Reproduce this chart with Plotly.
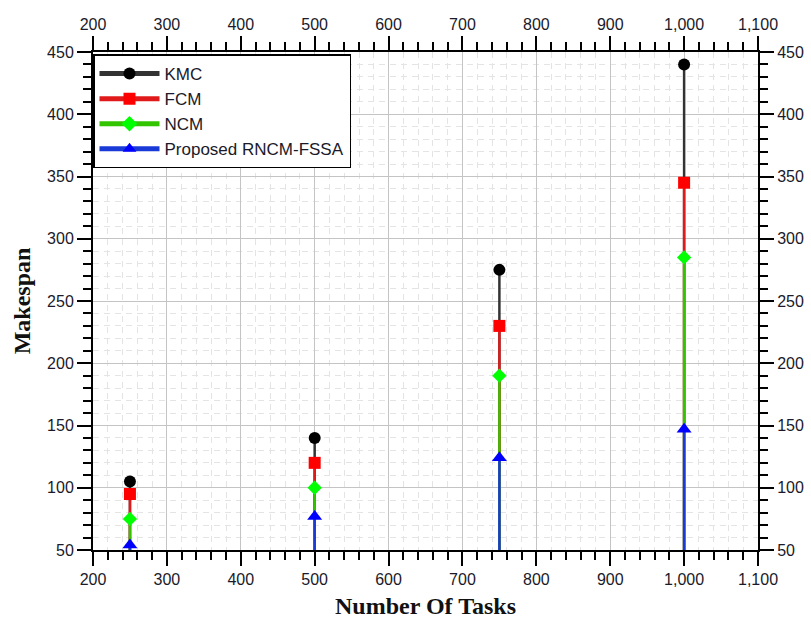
import plotly.graph_objects as go

tasks = [250, 500, 750, 1000]
kmc = [105, 140, 275, 440]
fcm = [95, 120, 230, 345]
ncm = [75, 100, 190, 285]
proposed = [54, 77, 124, 147]
baseline = 50

series = [
    ("KMC", kmc, "#333333", "#000000", "circle", 12),
    ("FCM", fcm, "#e01a1a", "#ff0000", "square", 12),
    ("NCM", ncm, "#33c400", "#00ff00", "diamond", 11),
    ("Proposed RNCM-FSSA", proposed, "#1a3ad8", "#0000ff", "triangle-up", 13),
]

fig = go.Figure()
for name, vals, lc, mc, sym, ms in series:
    xs, ys, sizes = [], [], []
    for t, v in zip(tasks, vals):
        xs += [t, t, None]
        ys += [baseline, v, None]
        sizes += [0, ms, 0]
    fig.add_trace(go.Scatter(
        x=xs, y=ys, mode="lines+markers", name=name,
        line=dict(color=lc, width=2.5),
        marker=dict(color=mc, symbol=sym, size=sizes, opacity=1, line=dict(width=0)),
        hoverinfo="skip",
    ))

# invisible trace so the mirrored (top/right) axes are drawn
fig.add_trace(go.Scatter(
    x=tasks, y=kmc, xaxis="x2", yaxis="y2", mode="markers",
    marker=dict(opacity=0), showlegend=False, hoverinfo="skip",
))

tickfont = dict(family="Liberation Sans, Arial", size=16, color="#1a1a2a")
common_x = dict(
    range=[200, 1100], dtick=100, tick0=200, tickformat=",",
    showline=True, linecolor="black", linewidth=2,
    ticks="outside", ticklen=14, tickwidth=2, tickcolor="black",
    tickfont=tickfont, automargin=False,
    zeroline=False,
)
common_y = dict(
    range=[50, 450], dtick=50, tick0=50,
    showline=True, linecolor="black", linewidth=2,
    ticks="outside", ticklen=14, tickwidth=2, tickcolor="black",
    tickfont=tickfont, automargin=False,
    zeroline=False,
)
minor_x = dict(dtick=20, ticks="outside", ticklen=8, tickwidth=1.5, tickcolor="black")
minor_y = dict(dtick=10, ticks="outside", ticklen=8, tickwidth=1.5, tickcolor="black")
title_font = dict(family="Liberation Serif, Times New Roman", size=24, color="#111111", weight="bold")

fig.update_layout(
    width=811, height=630,
    margin=dict(l=93, r=53, t=52, b=80, autoexpand=False),
    paper_bgcolor="white", plot_bgcolor="white",
    showlegend=True,
    xaxis=dict(
        **common_x,
        minor=dict(**minor_x, showgrid=True, gridcolor="#e4e4e4", griddash="6px,5px", gridwidth=1),
        showgrid=True, gridcolor="#c4c4c4", gridwidth=1,
        title=dict(text="Number Of Tasks", font=title_font, standoff=10),
    ),
    yaxis=dict(
        **common_y,
        minor=dict(**minor_y, showgrid=True, gridcolor="#e4e4e4", griddash="6px,5px", gridwidth=1),
        showgrid=True, gridcolor="#c4c4c4", gridwidth=1,
        title=dict(text="Makespan", font=title_font, standoff=10),
    ),
    xaxis2=dict(**common_x, minor=minor_x, overlaying="x", side="top", anchor="y", showgrid=False),
    yaxis2=dict(**common_y, minor=minor_y, overlaying="y", side="right", anchor="x", showgrid=False),
    legend=dict(
        x=0.0, y=0.995, xanchor="left", yanchor="top",
        bgcolor="white", bordercolor="black", borderwidth=1.5,
        font=dict(family="Liberation Sans, Arial", size=17, color="#1a1a2a"),
        itemsizing="constant", itemwidth=60, tracegroupgap=0,
    ),
)

fig.write_html("out.html")
